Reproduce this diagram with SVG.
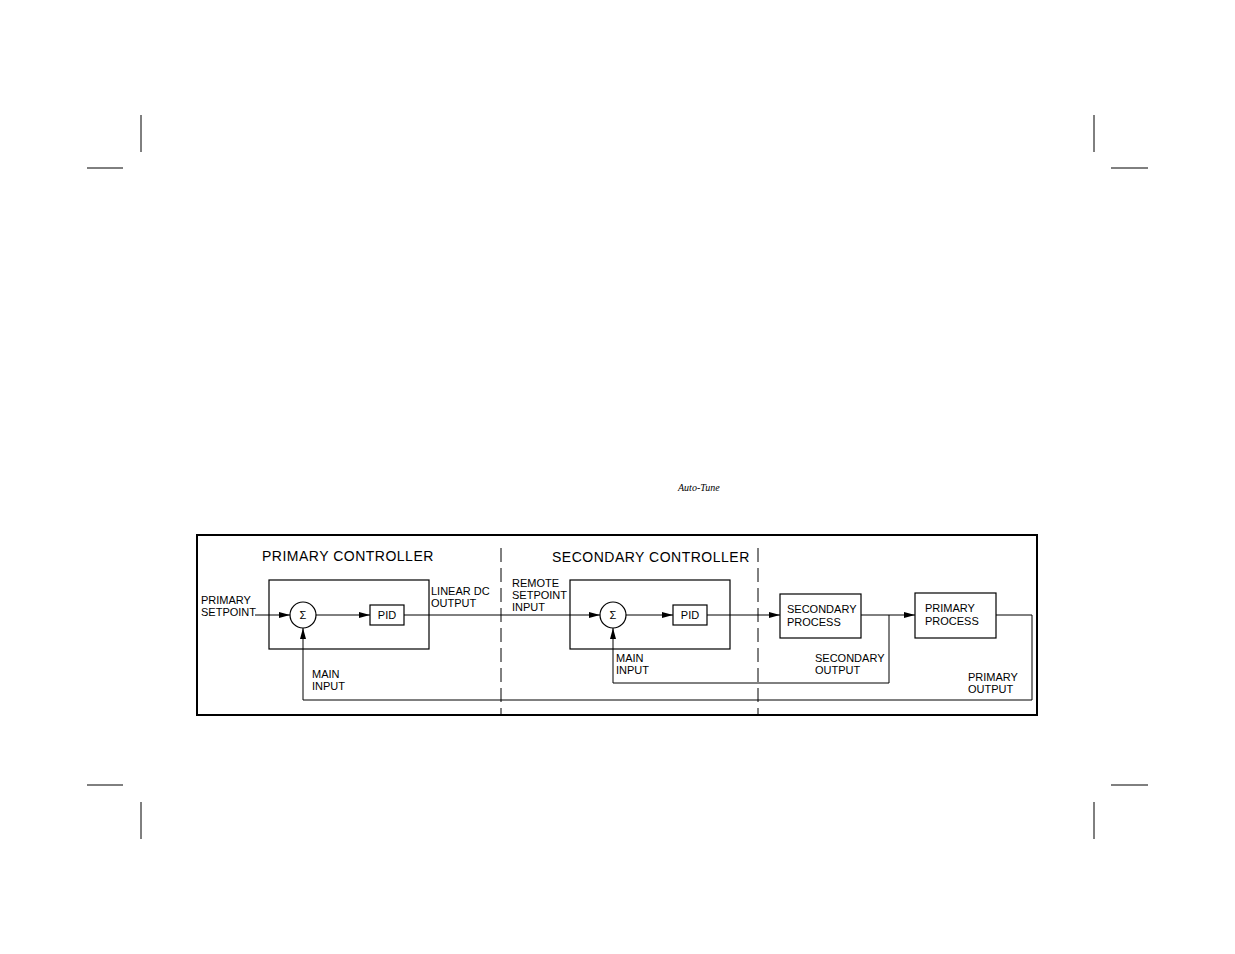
<svg xmlns="http://www.w3.org/2000/svg" width="1235" height="954" viewBox="0 0 1235 954">
<defs>
<marker id="ah" markerWidth="12" markerHeight="8" refX="11" refY="4" orient="auto" markerUnits="userSpaceOnUse"><path d="M0,1 L11,4 L0,7 Z" fill="#000"/></marker>
<style>
.l{stroke:#000;stroke-width:1;fill:none}
.b{stroke:#000;stroke-width:1.2;fill:#fff}
.d{stroke:#000;stroke-width:1;stroke-dasharray:14,6}
.t{font-family:"Liberation Sans",Arial,sans-serif;font-size:11px;fill:#000}
.h{font-family:"Liberation Sans",Arial,sans-serif;font-size:14px;fill:#000;letter-spacing:0.5px}
</style>
</defs>
<rect width="1235" height="954" fill="#fff"/>
<g class="l" stroke-width="1.2">
<path d="M141 115V152M87 168H123M1094 115V152M1111 168H1148M87 785H123M1111 785H1148M141 802V839M1094 802V839"/>
</g>
<text x="678" y="491" font-family="Liberation Serif,serif" font-style="italic" font-size="10">Auto-Tune</text>
<rect x="197" y="535" width="840" height="180" fill="none" stroke="#000" stroke-width="2"/>
<g id="dividers">
<line class="d" x1="501" y1="548" x2="501" y2="715"/>
<line class="d" x1="758" y1="548" x2="758" y2="715"/>
</g>
<text class="h" x="262" y="561">PRIMARY CONTROLLER</text>
<text class="h" x="552" y="562">SECONDARY CONTROLLER</text>
<g id="primary-controller"><rect class="b" x="269" y="580" width="160" height="69"/></g>
<g id="secondary-controller"><rect class="b" x="570" y="580" width="160" height="69"/></g>
<g id="connectors" class="l">
<line x1="255" y1="615" x2="290" y2="615" marker-end="url(#ah)"/>
<line x1="316" y1="615" x2="370" y2="615" marker-end="url(#ah)"/>
<line x1="404" y1="615" x2="600" y2="615" marker-end="url(#ah)"/>
<line x1="626" y1="615" x2="673" y2="615" marker-end="url(#ah)"/>
<line x1="707" y1="615" x2="780" y2="615" marker-end="url(#ah)"/>
<line x1="861" y1="615" x2="915" y2="615" marker-end="url(#ah)"/>
<polyline points="996,615 1032,615 1032,700 303,700 303,628" marker-end="url(#ah)"/>
<polyline points="889,615 889,683 613,683 613,628" marker-end="url(#ah)"/>
</g>
<g id="sum1"><circle class="b" cx="303" cy="615" r="13"/><text class="t" x="303" y="619" text-anchor="middle">Σ</text></g>
<g id="pid1"><rect class="b" x="370" y="605" width="34" height="20"/><text class="t" x="387" y="619" text-anchor="middle">PID</text></g>
<g id="sum2"><circle class="b" cx="613" cy="615" r="13"/><text class="t" x="613" y="619" text-anchor="middle">Σ</text></g>
<g id="pid2"><rect class="b" x="673" y="605" width="34" height="20"/><text class="t" x="690" y="619" text-anchor="middle">PID</text></g>
<g id="secondary-process"><rect class="b" x="780" y="594" width="81" height="44"/><text class="t" x="787" y="613">SECONDARY</text><text class="t" x="787" y="626">PROCESS</text></g>
<g id="primary-process"><rect class="b" x="915" y="593" width="81" height="45"/><text class="t" x="925" y="612">PRIMARY</text><text class="t" x="925" y="625">PROCESS</text></g>
<g class="t">
<text x="201" y="604">PRIMARY</text><text x="201" y="616">SETPOINT</text>
<text x="431" y="595">LINEAR DC</text><text x="431" y="607">OUTPUT</text>
<text x="512" y="587">REMOTE</text><text x="512" y="599">SETPOINT</text><text x="512" y="611">INPUT</text>
<text x="312" y="678">MAIN</text><text x="312" y="690">INPUT</text>
<text x="616" y="662">MAIN</text><text x="616" y="674">INPUT</text>
<text x="815" y="662">SECONDARY</text><text x="815" y="674">OUTPUT</text>
<text x="968" y="681">PRIMARY</text><text x="968" y="693">OUTPUT</text>
</g>
</svg>
